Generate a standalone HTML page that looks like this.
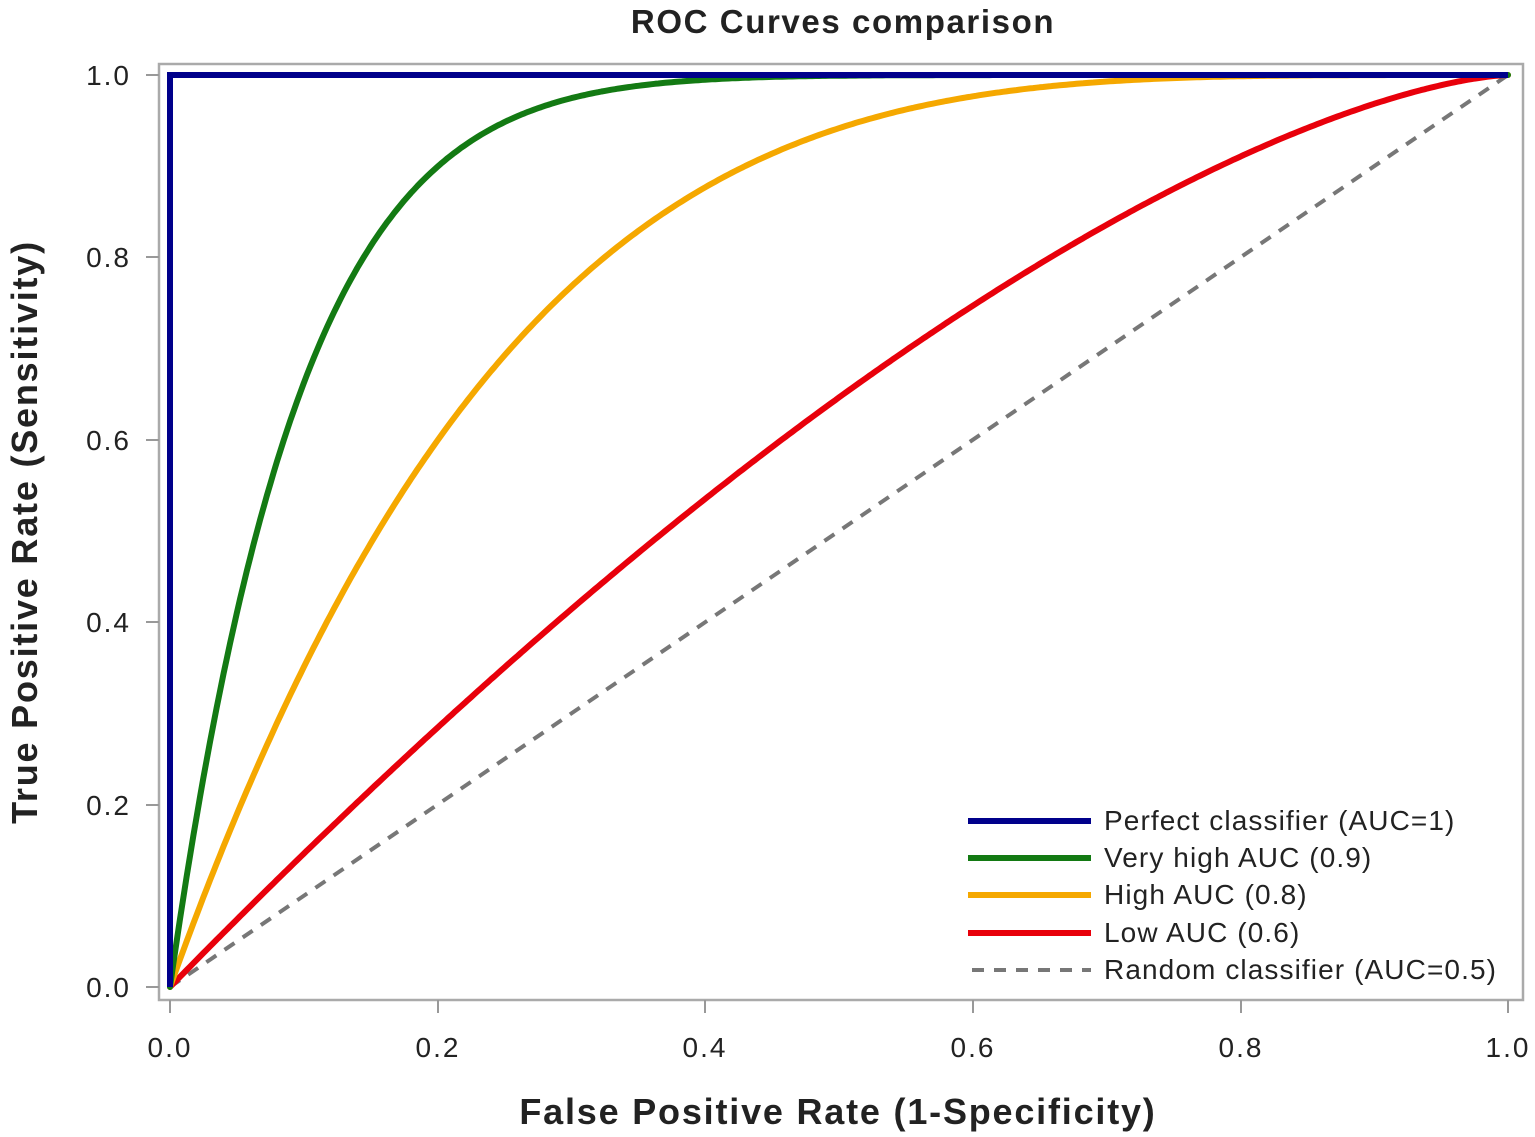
<!DOCTYPE html>
<html><head><meta charset="utf-8"><style>
html,body{margin:0;padding:0;background:#fff;width:1535px;height:1137px;overflow:hidden}
svg text{font-family:"Liberation Sans",sans-serif}
</style></head><body>
<svg id="s" width="1535" height="1137" xmlns="http://www.w3.org/2000/svg">
<rect x="0" y="0" width="1535" height="1137" fill="#fff"/>
<text x="843" y="33" font-size="33" font-weight="bold" letter-spacing="1.6" text-anchor="middle" fill="#222">ROC Curves comparison</text>
<rect x="159" y="64" width="1364" height="936" fill="none" stroke="#aaa" stroke-width="2.5"/>
<g stroke="#999" stroke-width="2">
<line x1="146" y1="75" x2="159" y2="75"/><line x1="146" y1="257" x2="159" y2="257"/><line x1="146" y1="440" x2="159" y2="440"/><line x1="146" y1="622" x2="159" y2="622"/><line x1="146" y1="805" x2="159" y2="805"/><line x1="146" y1="987" x2="159" y2="987"/>
<line x1="170" y1="1000" x2="170" y2="1013"/><line x1="438" y1="1000" x2="438" y2="1013"/><line x1="705" y1="1000" x2="705" y2="1013"/><line x1="973" y1="1000" x2="973" y2="1013"/><line x1="1241" y1="1000" x2="1241" y2="1013"/><line x1="1508" y1="1000" x2="1508" y2="1013"/>
</g>
<g font-size="28" fill="#222" text-anchor="end" letter-spacing="2">
<text x="131" y="85">1.0</text><text x="131" y="267">0.8</text><text x="131" y="450">0.6</text><text x="131" y="632">0.4</text><text x="131" y="815">0.2</text><text x="131" y="997">0.0</text>
</g>
<g font-size="28" fill="#222" text-anchor="middle" letter-spacing="2">
<text x="170" y="1057">0.0</text><text x="438" y="1057">0.2</text><text x="705" y="1057">0.4</text><text x="973" y="1057">0.6</text><text x="1241" y="1057">0.8</text><text x="1508" y="1057">1.0</text>
</g>
<text x="838" y="1124" font-size="36" font-weight="bold" letter-spacing="1.8" text-anchor="middle" fill="#222">False Positive Rate (1-Specificity)</text>
<text transform="translate(37,532) rotate(-90)" font-size="36" font-weight="bold" letter-spacing="1.8" text-anchor="middle" fill="#222">True Positive Rate (Sensitivity)</text>
<line x1="170" y1="987" x2="1508" y2="75" stroke="#777" stroke-width="4" stroke-dasharray="12,10"/>
<g id="curves" fill="none" stroke-width="6" stroke-linejoin="round" stroke-linecap="round"></g>
<polyline points="170,987 170,75 1508,75" fill="none" stroke="#00008b" stroke-width="6"/>
<g stroke-width="6">
<line x1="968" y1="821" x2="1091" y2="821" stroke="#00008b"/>
<line x1="968" y1="858" x2="1091" y2="858" stroke="#137a13"/>
<line x1="968" y1="895" x2="1091" y2="895" stroke="#f5a800"/>
<line x1="968" y1="933" x2="1091" y2="933" stroke="#e8000b"/>
<line x1="972" y1="970" x2="1091" y2="970" stroke="#777" stroke-width="4" stroke-dasharray="12,10"/>
</g>
<g font-size="28" fill="#222" letter-spacing="1.1">
<text x="1104" y="830">Perfect classifier (AUC=1)</text>
<text x="1104" y="867">Very high AUC (0.9)</text>
<text x="1104" y="904">High AUC (0.8)</text>
<text x="1104" y="942">Low AUC (0.6)</text>
<text x="1104" y="979">Random classifier (AUC=0.5)</text>
</g>
</svg>
<script>
var g=document.getElementById('curves');
[[1.5,'#e8000b'],[4.1,'#f5a800'],[10.3,'#137a13']].forEach(function(c){
 var p=[];for(var i=0;i<=400;i++){var x=i/400;var y=1-Math.pow(1-x,c[0]);p.push((170+x*1338).toFixed(1)+','+(987-y*912).toFixed(1));}
 var e=document.createElementNS('http://www.w3.org/2000/svg','polyline');
 e.setAttribute('points',p.join(' '));e.setAttribute('stroke',c[1]);g.appendChild(e);
});
</script>
</body></html>
